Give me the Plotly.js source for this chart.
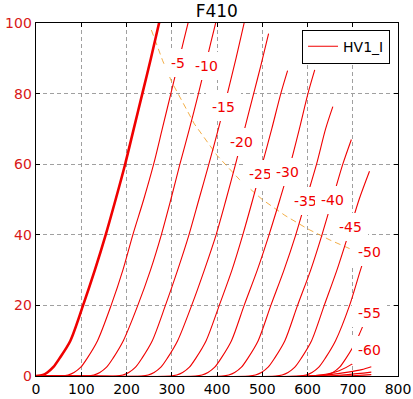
<!DOCTYPE html>
<html>
<head>
<meta charset="utf-8">
<script src="https://cdn.plot.ly/plotly-3.0.1.min.js"></script>
<style>html,body{margin:0;padding:0;background:#fff;}#chart{width:413px;height:399px;}</style>
</head>
<body>
<div id="chart"></div>
<script>
// Plate voltage (V) and plate current (mA) for each grid voltage
const va_0 = [0, 15, 25, 38, 52, 76, 104, 130, 154, 176, 197, 216, 235, 254, 272, 282];
const ia_0 = [0, 0.3, 1, 2.5, 5, 10, 20, 30, 40, 50, 60, 70, 80, 90, 100, 105];

const va_5 = [0, 56, 71, 84, 99, 113, 136, 166, 192, 214, 238, 260, 279, 298, 317, 336, 346];
const ia_5 = [0, 0, 0.3, 1, 2.5, 5, 10, 20, 30, 40, 50, 60, 70, 80, 90, 100, 105];

const va_10 = [0, 113, 128, 141, 156, 170, 193, 225, 253, 277, 298, 318, 339, 359, 378, 397, 407];
const ia_10 = [0, 0, 0.3, 1, 2.5, 5, 10, 20, 30, 40, 50, 60, 70, 80, 90, 100, 105];

const va_15 = [0, 177, 192, 205, 220, 234, 257, 286, 313, 338, 360, 382, 403, 423, 442, 460, 470];
const ia_15 = [0, 0, 0.3, 1, 2.5, 5, 10, 20, 30, 40, 50, 60, 70, 80, 90, 100, 105];

const va_20 = [0, 233, 248, 261, 276, 290, 313, 344, 372, 398, 420, 441, 461, 481, 497, 514];
const ia_20 = [0, 0, 0.3, 1, 2.5, 5, 10, 20, 30, 40, 50, 60, 70, 80, 88, 97];

const va_25 = [0, 296, 311, 324, 339, 353, 376, 405, 433, 457, 479, 500, 521, 541, 556];
const ia_25 = [0, 0, 0.3, 1, 2.5, 5, 10, 20, 30, 40, 50, 60, 70, 80, 86.5];

const va_30 = [0, 352, 367, 380, 395, 409, 432, 460, 489, 515, 539, 562, 582, 601, 616];
const ia_30 = [0, 0, 0.3, 1, 2.5, 5, 10, 20, 30, 40, 50, 60, 70, 80, 86.7];

const va_35 = [0, 411, 426, 439, 454, 468, 491, 519, 548, 574, 597, 620, 640, 656];
const ia_35 = [0, 0, 0.3, 1, 2.5, 5, 10, 20, 30, 40, 50, 60, 70, 76.3];

const va_40 = [0, 470, 485, 498, 513, 527, 550, 578, 607, 632, 655, 678, 697];
const ia_40 = [0, 0, 0.3, 1, 2.5, 5, 10, 20, 30, 40, 50, 60, 67];

const va_45 = [0, 529, 544, 557, 572, 586, 609, 637, 665, 690, 714, 737];
const ia_45 = [0, 0, 0.3, 1, 2.5, 5, 10, 20, 30, 40, 50, 58];

const va_50 = [0, 582, 597, 610, 625, 639, 662, 693, 717, 740];
const ia_50 = [0, 0, 0.3, 1, 2.5, 5, 10, 20, 30, 39];

const va_55 = [0, 628, 643, 656, 671, 685, 708, 741];
const ia_55 = [0, 0, 0.3, 1, 2.5, 5, 10, 20];

const va_60 = [0, 600, 640, 670, 700, 720, 741];
const ia_60 = [0, 0, 0.5, 1.5, 3.5, 5.5, 9];

const va_65 = [0, 600, 650, 690, 720, 741];
const ia_65 = [0, 0, 0.4, 1.1, 1.8, 2.6];

const va_70 = [0, 640, 690, 741];
const ia_70 = [0, 0, 0.4, 1.1];

const va_75 = [0, 680, 741];
const ia_75 = [0, 0, 0.4];

// Max plate dissipation curve
const pdV = [255, 280, 300, 350, 400, 450, 500, 550, 600, 650, 700, 763];
const pdI = [98, 89.3, 83.3, 71.4, 62.5, 55.6, 50, 45.5, 41.7, 38.5, 35.7, 32.8];

// Curve labels
const labelText = ['-5', '-10', '-15', '-20', '-25', '-30', '-35', '-40', '-45', '-50', '-55', '-60'];
const labelX = [314, 377, 415, 455, 497, 556, 596, 656, 696, 737, 737, 737];
const labelY = [88.6, 87.9, 76.3, 66.3, 57.3, 57.8, 49.6, 49.9, 42.2, 35, 17.8, 7.3];

const xTicks = [0, 100, 200, 300, 400, 500, 600, 700, 800];
const yTicks = [0, 20, 40, 60, 80, 100];

const thin = [
  [va_5, ia_5], [va_10, ia_10], [va_15, ia_15], [va_20, ia_20], [va_25, ia_25],
  [va_30, ia_30], [va_35, ia_35], [va_40, ia_40], [va_45, ia_45], [va_50, ia_50],
  [va_55, ia_55], [va_60, ia_60], [va_65, ia_65], [va_70, ia_70], [va_75, ia_75]
];

const RED = '#f00000';
const traces = [];
traces.push({x: pdV, y: pdI, mode: 'lines', showlegend: false, hoverinfo: 'skip',
  line: {color: 'rgba(240,160,40,0.85)', width: 1, dash: '6px,4px'}});
traces.push({x: va_0, y: ia_0, mode: 'lines', showlegend: false,
  line: {color: RED, width: 2.6, shape: 'spline', smoothing: 0.8}});
thin.forEach((c, i) => {
  traces.push({x: c[0], y: c[1], mode: 'lines', name: 'HV1_I', showlegend: i === 0,
    line: {color: RED, width: 1.1, shape: 'spline', smoothing: 0.8}});
});

const annotations = labelText.map((t, i) => ({
  x: labelX[i], y: labelY[i], xref: 'x', yref: 'y', text: t, showarrow: false,
  font: {family: 'DejaVu Sans', size: 14, color: RED},
  bgcolor: '#ffffff', borderpad: 6, borderwidth: 0
}));

const axisCommon = {
  showline: true, linecolor: '#000', linewidth: 1.4, mirror: 'ticks',
  ticks: 'inside', ticklen: 4, tickwidth: 1, tickcolor: '#000',
  showgrid: true, gridcolor: '#a0a0a0', gridwidth: 1, griddash: '4px,3px',
  zeroline: false
};

const layout = {
  width: 413, height: 399,
  margin: {l: 36, r: 15, t: 23, b: 23, pad: 0},
  paper_bgcolor: '#fff', plot_bgcolor: '#fff',
  font: {family: 'DejaVu Sans', size: 14, color: '#000'},
  title: {text: 'F410', x: 0.525, xanchor: 'center', y: 0.972, yanchor: 'middle',
          font: {family: 'DejaVu Sans', size: 17, color: '#000'}},
  xaxis: Object.assign({}, axisCommon, {range: [0, 800], tickvals: xTicks,
          tickfont: {family: 'DejaVu Sans', size: 14, color: '#000'}}),
  yaxis: Object.assign({}, axisCommon, {range: [0, 100], tickvals: yTicks,
          tickfont: {family: 'DejaVu Sans', size: 14, color: '#d81818'}}),
  legend: {x: 0.978, xanchor: 'right', y: 0.981, yanchor: 'top',
           bgcolor: '#fff', bordercolor: '#000', borderwidth: 1,
           font: {family: 'DejaVu Sans', size: 14, color: '#000'}},
  annotations: annotations,
  showlegend: true
};

Plotly.newPlot('chart', traces, layout, {staticPlot: true, displayModeBar: false});
</script>
</body>
</html>
